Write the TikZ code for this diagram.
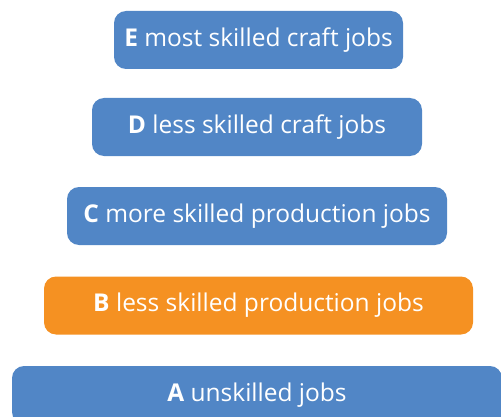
\documentclass[tikz,border=0pt]{standalone}
\usepackage{fontspec}
\setmainfont{Open Sans}
\definecolor{tierblue}{RGB}{81,134,198}
\definecolor{tierorange}{RGB}{245,145,34}
\tikzset{
  tier/.style={rounded corners=12pt, fill=tierblue, text=white, minimum height=58pt,
    inner sep=0pt, font=\fontsize{24.5}{29}\selectfont},
  hilite/.style={fill=tierorange}
}
\begin{document}
\begin{tikzpicture}[x=1pt,y=1pt]
  \useasboundingbox (0,0) rectangle (501,416);
  \begin{scope}
    \clip (0,0) rectangle (501,416);
    \node[tier, minimum width=289pt] (E) at (258.5,376) {\textbf{E} most skilled craft jobs};
    \node[tier, minimum width=330pt] (D) at (257,289) {\textbf{D} less skilled craft jobs};
    \node[tier, minimum width=380pt] (C) at (257,200) {\textbf{C} more skilled production jobs};
    \node[tier, hilite, minimum width=429pt] (B) at (258.5,110.5) {\textbf{B} less skilled production jobs};
    \node[tier, minimum width=490pt] (A) at (257,21) {\textbf{A} unskilled jobs};
  \end{scope}
\end{tikzpicture}
\end{document}
